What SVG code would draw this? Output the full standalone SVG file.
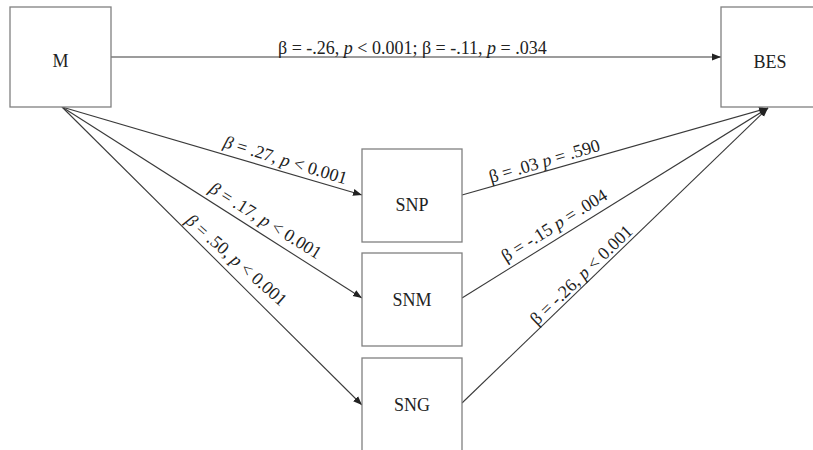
<svg xmlns="http://www.w3.org/2000/svg" width="813" height="450" viewBox="0 0 813 450">
<defs>
<marker id="arr" markerUnits="userSpaceOnUse" markerWidth="10" markerHeight="8" refX="9" refY="4" orient="auto">
<path d="M0,0.5 L9,4 L0,7.5 Z" fill="#222"/>
</marker>
<style>
.box{fill:#fff;stroke:#808080;stroke-width:1.3}
.lbl{font-family:"Liberation Serif","Times New Roman",serif;font-size:18px;fill:#222}
.it{font-style:italic}
.node{font-family:"Liberation Serif","Times New Roman",serif;font-size:18px;fill:#222;text-anchor:middle}
.edge{stroke:#3a3a3a;stroke-width:1.1;fill:none;marker-end:url(#arr)}
</style>
</defs>
<rect width="813" height="450" fill="#fff"/>
<g id="connectors">
<line class="edge" x1="111" y1="57" x2="721" y2="57"/>
<line class="edge" x1="62" y1="107" x2="362" y2="195"/>
<line class="edge" x1="62" y1="107" x2="362" y2="298"/>
<line class="edge" x1="62" y1="107" x2="362" y2="405"/>
<line class="edge" x1="462" y1="195" x2="768" y2="108"/>
<line class="edge" x1="462" y1="298" x2="768" y2="108"/>
<line class="edge" x1="462" y1="403" x2="768" y2="108"/>
<text class="lbl" x="278" y="54">β = -.26, <tspan class="it">p</tspan> &lt; 0.001; β = -.11, <tspan class="it">p</tspan> = .034</text>
<text class="lbl" transform="translate(222.5,147) rotate(17)"><tspan class="it">β</tspan> = .27, <tspan class="it">p</tspan> &lt; 0.001</text>
<text class="lbl" transform="translate(208,191.5) rotate(32)"><tspan class="it">β</tspan> = .17, <tspan class="it">p</tspan> &lt; 0.001</text>
<text class="lbl" transform="translate(184.5,222) rotate(41.5)"><tspan class="it">β</tspan> = .50, <tspan class="it">p</tspan> &lt; 0.001</text>
<text class="lbl" transform="translate(491,183) rotate(-16.5)">β = .03 <tspan class="it">p</tspan> = .590</text>
<text class="lbl" transform="translate(506,262.5) rotate(-32)">β = -.15 <tspan class="it">p</tspan> = .004</text>
<text class="lbl" transform="translate(537,326) rotate(-44)">β = -.26, <tspan class="it">p</tspan> &lt; 0.001</text>
</g>
<g id="node-M">
<rect class="box" x="10" y="7" width="101" height="100"/>
<text class="node" x="60.5" y="67">M</text>
</g>
<g id="node-BES">
<rect class="box" x="721" y="7" width="100" height="100"/>
<text class="node" x="770" y="67.5">BES</text>
</g>
<g id="node-SNP">
<rect class="box" x="362" y="149" width="100" height="93"/>
<text class="node" x="412" y="211">SNP</text>
</g>
<g id="node-SNM">
<rect class="box" x="362" y="253" width="100" height="93"/>
<text class="node" x="412" y="306">SNM</text>
</g>
<g id="node-SNG">
<rect class="box" x="362" y="358" width="100" height="100"/>
<text class="node" x="412" y="411">SNG</text>
</g>
</svg>
